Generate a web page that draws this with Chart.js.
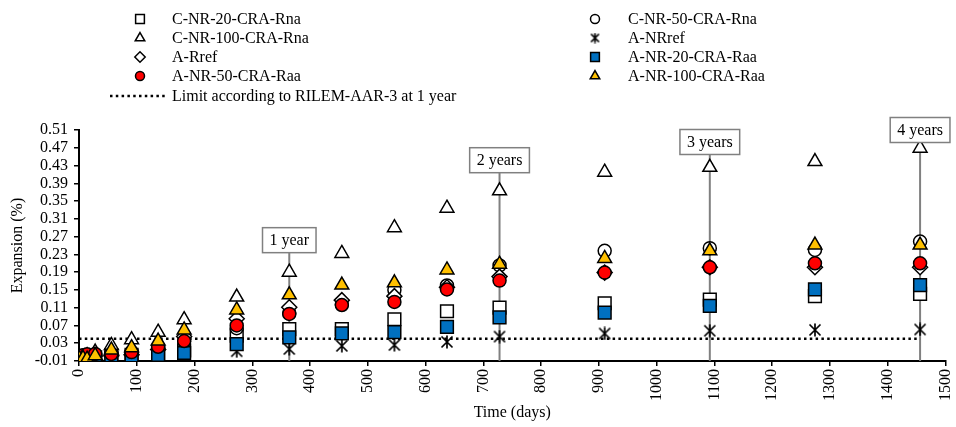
<!DOCTYPE html>
<html>
<head>
<meta charset="utf-8">
<title>Expansion vs time</title>
<script src="https://cdn.jsdelivr.net/npm/chart.js@4.4.1/dist/chart.umd.min.js"></script>
<style>
    html, body { margin: 0; padding: 0; background: #fff; }
</style>
</head>
<body>
<canvas id="myChart" width="956" height="427"></canvas>
<script>
// measuring ages (days)
const days = [0, 7, 14, 28, 56, 91, 137, 182, 273, 364, 455, 546, 637, 728, 910, 1092, 1274, 1456];

// expansion (%) per series
const cNr20  = [0, -0.004, -0.003, -0.002, 0.003, 0.004, 0.008, 0.014, 0.047, 0.062, 0.062, 0.084, 0.102, 0.110, 0.120, 0.128, 0.136, 0.141];
const cNr50  = [0, -0.002, 0.000, 0.004, 0.008, 0.010, 0.020, 0.035, 0.064, 0.098, 0.118, 0.150, 0.160, 0.205, 0.238, 0.244, 0.240, 0.259];
const cNr100 = [0, -0.002, 0.002, 0.010, 0.025, 0.038, 0.055, 0.083, 0.134, 0.190, 0.232, 0.290, 0.334, 0.373, 0.415, 0.426, 0.439, 0.469];
const aNRref = [0, -0.003, -0.005, -0.006, -0.002, -0.001, 0.002, 0.004, 0.012, 0.017, 0.024, 0.026, 0.033, 0.045, 0.052, 0.058, 0.060, 0.061];
const aRref  = [0, -0.004, -0.006, -0.008, 0.002, 0.004, 0.016, 0.045, 0.085, 0.111, 0.127, 0.136, 0.156, 0.180, 0.189, 0.201, 0.201, 0.201];
const aNr20  = [-0.002, -0.004, -0.005, -0.007, -0.003, 0.000, 0.004, 0.008, 0.028, 0.043, 0.052, 0.055, 0.067, 0.088, 0.099, 0.114, 0.151, 0.161];
const aNr50  = [-0.002, 0.003, 0.005, 0.006, 0.006, 0.010, 0.022, 0.035, 0.070, 0.096, 0.116, 0.123, 0.151, 0.171, 0.189, 0.201, 0.210, 0.210];
const aNr100 = [-0.004, -0.004, -0.006, 0.002, 0.015, 0.020, 0.035, 0.060, 0.105, 0.139, 0.161, 0.166, 0.195, 0.208, 0.221, 0.238, 0.251, 0.251];

// reference lines
const limitValue = 0.04;
const limitLabel = 'Limit according to RILEM-AAR-3 at 1 year';
const yearDays = [364, 728, 1092, 1456];
const yearLabels = ['1 year', '2 years', '3 years', '4 years'];
const yearBoxAt = [0.262, 0.442, 0.483, 0.51];

const FONT = '"Liberation Serif", "Times New Roman", serif';
Chart.defaults.font.family = FONT;
Chart.defaults.font.size = 16;
Chart.defaults.color = '#000';

// Excel style "star" marker: an x with a vertical stroke
function starMarker(size) {
    const c = document.createElement('canvas');
    c.width = size; c.height = size;
    const g = c.getContext('2d');
    const m = 1.5, s = size - 1.5;
    g.strokeStyle = '#000';
    g.lineWidth = 1.7;
    g.beginPath();
    g.moveTo(m, m); g.lineTo(s, s);
    g.moveTo(s, m); g.lineTo(m, s);
    g.moveTo(size / 2, 0.5); g.lineTo(size / 2, size - 0.5);
    g.stroke();
    return c;
}

const toPts = vals => days.map((d, i) => ({ x: d, y: vals[i] }));

const seriesDefs = [
    { label: 'C-NR-20-CRA-Rna',  data: cNr20,  style: 'rect',     fill: '#fff',    r: 9,   lr: 6.2 },
    { label: 'C-NR-50-CRA-Rna',  data: cNr50,  style: 'circle',   fill: '#fff',    r: 6.5, lr: 4.5 },
    { label: 'C-NR-100-CRA-Rna', data: cNr100, style: 'triangle', fill: '#fff',    r: 8,   lr: 5.5 },
    { label: 'A-NRref',          data: aNRref, style: starMarker(14), fill: '#000', r: 7, lr: 5, legendStyle: starMarker(11) },
    { label: 'A-Rref',           data: aRref,  style: 'rectRot',  fill: '#fff',    r: 7.5, lr: 5.2 },
    { label: 'A-NR-20-CRA-Raa',  data: aNr20,  style: 'rect',     fill: '#0070C0', r: 9,   lr: 6.2 },
    { label: 'A-NR-50-CRA-Raa',  data: aNr50,  style: 'circle',   fill: '#FF0000', r: 6.5, lr: 4.5 },
    { label: 'A-NR-100-CRA-Raa', data: aNr100, style: 'triangle', fill: '#FFC000', r: 8,   lr: 5.5 }
];

const datasets = seriesDefs.map((s, i) => ({
    label: s.label,
    data: toPts(s.data),
    pointStyle: s.style,
    pointRadius: s.r,
    pointBackgroundColor: s.fill,
    pointBorderColor: '#000',
    pointBorderWidth: 1.5,
    showLine: false,
    order: 10 - i
}));

// vertical year markers
yearDays.forEach((d, i) => {
    datasets.push({
        label: yearLabels[i],
        data: [{ x: d, y: -0.01 }, { x: d, y: yearBoxAt[i] }],
        showLine: true,
        borderColor: '#808080',
        borderWidth: 2,
        pointRadius: 0,
        order: 30
    });
});

// limit line
datasets.push({
    label: limitLabel,
    data: [{ x: 0, y: limitValue }, { x: yearDays[yearDays.length - 1], y: limitValue }],
    showLine: true,
    borderColor: '#000',
    borderWidth: 2.5,
    borderDash: [2.5, 3.3],
    pointRadius: 0,
    order: 25
});

const extras = {
    id: 'extras',
    afterDatasetsDraw(chart) {
        const ctx = chart.ctx;
        const xs = chart.scales.x, ys = chart.scales.y;
        ctx.save();
        ctx.font = '16px ' + FONT;
        ctx.textBaseline = 'middle';

        // year boxes
        ctx.textAlign = 'center';
        yearDays.forEach((d, i) => {
            const px = xs.getPixelForValue(d);
            const py = ys.getPixelForValue(yearBoxAt[i]);
            const w = ctx.measureText(yearLabels[i]).width + 14;
            const h = 25;
            ctx.fillStyle = '#fff';
            ctx.fillRect(px - w / 2, py - h / 2, w, h);
            ctx.strokeStyle = '#808080';
            ctx.lineWidth = 1.5;
            ctx.strokeRect(px - w / 2, py - h / 2, w, h);
            ctx.fillStyle = '#000';
            ctx.fillText(yearLabels[i], px, py + 1);
        });

        // legend, two columns
        ctx.textAlign = 'left';
        const colMarker = [140, 595], colText = [172, 628];
        const rowY = [19, 38, 57, 76];
        seriesDefs.forEach((s, i) => {
            const col = i % 2, row = Math.floor(i / 2);
            ctx.fillStyle = s.fill;
            ctx.strokeStyle = '#000';
            ctx.lineWidth = 1.5;
            Chart.helpers.drawPoint(ctx, {
                pointStyle: s.legendStyle || s.style,
                radius: s.lr,
                borderWidth: 1.5,
                rotation: 0
            }, colMarker[col], rowY[row]);
            ctx.fillStyle = '#000';
            ctx.fillText(s.label, colText[col], rowY[row] + 1);
        });
        const ly = 96;
        ctx.strokeStyle = '#000';
        ctx.lineWidth = 2.5;
        ctx.setLineDash([2.5, 3.3]);
        ctx.beginPath();
        ctx.moveTo(110, ly);
        ctx.lineTo(165, ly);
        ctx.stroke();
        ctx.setLineDash([]);
        ctx.fillText(limitLabel, 172, ly + 1);
        ctx.restore();
    }
};

const ctx = document.getElementById('myChart').getContext('2d');
const myChart = new Chart(ctx, {
    type: 'scatter',
    data: { datasets: datasets },
    plugins: [extras],
    options: {
        responsive: false,
        devicePixelRatio: 1,
        animation: false,
        layout: { padding: { top: 130, right: 4, left: 0, bottom: 0 } },
        plugins: {
            legend: { display: false },
            tooltip: { enabled: false }
        },
        scales: {
            x: {
                type: 'linear',
                min: 0,
                max: 1500,
                afterFit(scale) {
                    scale.height = 66;
                    scale.paddingLeft = 0;
                    scale.paddingRight = 0;
                },
                ticks: {
                    stepSize: 100,
                    autoSkip: false,
                    minRotation: 90,
                    maxRotation: 90,
                    padding: 3,
                    color: '#000',
                    font: { size: 16 },
                    callback: v => String(v)
                },
                grid: {
                    drawOnChartArea: false,
                    drawTicks: true,
                    tickLength: 5,
                    color: '#000',
                    lineWidth: 1.5
                },
                border: { color: '#000', width: 2 },
                title: {
                    display: true,
                    text: 'Time (days)',
                    color: '#000',
                    font: { size: 16 },
                    padding: { top: 0, bottom: 5 }
                }
            },
            y: {
                type: 'linear',
                min: -0.01,
                max: 0.51,
                afterFit(scale) {
                    scale.width = 79;
                },
                ticks: {
                    stepSize: 0.04,
                    autoSkip: false,
                    padding: 6,
                    color: '#000',
                    font: { size: 16 },
                    callback: v => Number(v).toFixed(2)
                },
                grid: {
                    drawOnChartArea: false,
                    drawTicks: true,
                    tickLength: 5,
                    color: '#000',
                    lineWidth: 1.5
                },
                border: { color: '#000', width: 2 },
                title: {
                    display: true,
                    text: 'Expansion (%)',
                    color: '#000',
                    font: { size: 16 },
                    padding: { top: 8, bottom: 0 }
                }
            }
        }
    }
});
</script>
</body>
</html>
